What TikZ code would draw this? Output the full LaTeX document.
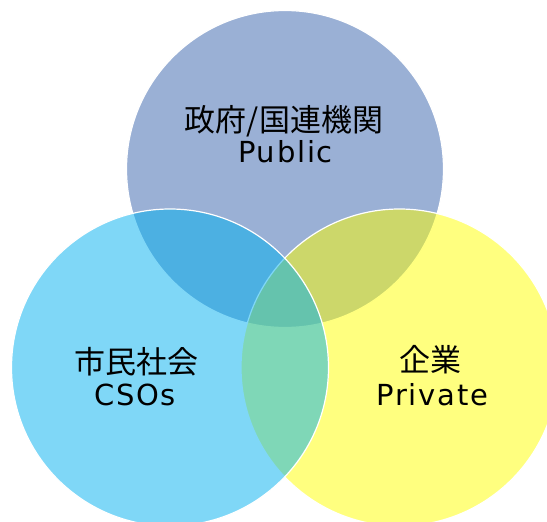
\documentclass[tikz,border=0pt]{standalone}
\usepackage{fontspec}
\newfontfamily\jpfont{Noto Sans CJK JP}
\newfontfamily\enfont[LetterSpace=6]{DejaVu Sans}
\definecolor{pubblue}{RGB}{55,98,173}
\definecolor{csoblue}{RGB}{0,176,240}
\definecolor{privyellow}{RGB}{255,255,0}
\tikzset{
  sector/.style={circle, draw=white, line width=1.2pt, fill opacity=0.5,
    minimum size=317pt, inner sep=0pt},
  jplabel/.style={font=\jpfont\fontsize{31}{31}\selectfont, anchor=base, inner sep=0pt},
  enlabel/.style={font=\enfont\fontsize{29}{29}\selectfont, anchor=base, inner sep=0pt}
}
\begin{document}
\begin{tikzpicture}[x=1pt, y=1pt]
    \clip (0,0) rectangle (547,-522);
    \fill[white] (0,0) rectangle (547,-522);
    \node[sector, fill=pubblue] (public) at (285,-169) {};
    \node[sector, fill=privyellow] (private) at (399.5,-367.5) {};
    \node[sector, fill=csoblue] (cso) at (170,-367.5) {};
    \node[jplabel] (publicjp) at (284,-131.3) {政府/国連機関};
    \node[enlabel] (publicen) at (285.5,-162.7) {Public};
    \node[jplabel] (csojp) at (136.7,-373.5) {市民社会};
    \node[enlabel] (csoen) at (135,-405) {CSOs};
    \node[jplabel] (privatejp) at (430.8,-371.8) {企業};
    \node[enlabel] (privateen) at (432.2,-405.7) {Private};
\end{tikzpicture}
\end{document}
